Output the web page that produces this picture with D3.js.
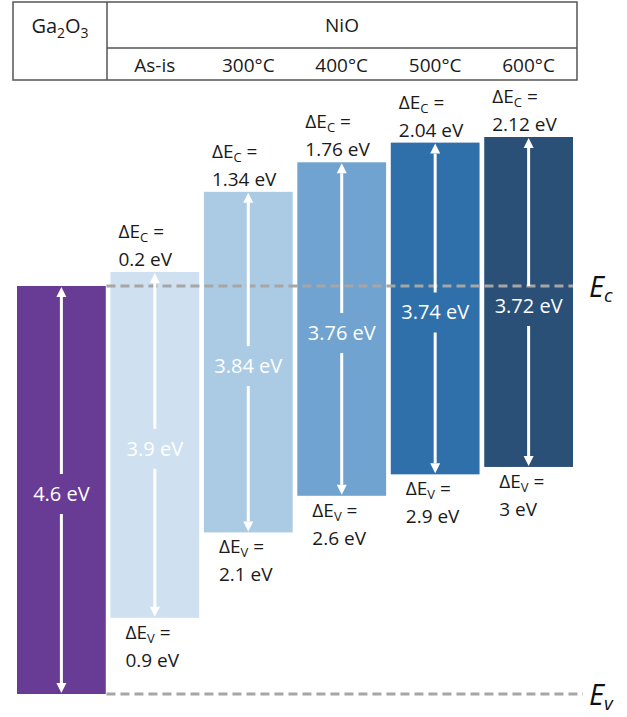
<!DOCTYPE html>
<html>
<head>
<meta charset="utf-8">
<script src="https://cdn.jsdelivr.net/npm/d3@7"></script>
<style>
  html, body { margin: 0; padding: 0; background: #fff; }
  svg { display: block; font-family: "Open Sans", "Noto Sans", sans-serif; }
</style>
</head>
<body>
<svg id="chart" width="627" height="717"></svg>
<script>
// Band alignment of NiO (as-deposited and annealed) against Ga2O3
const categories = ["Ga2O3", "As-is", "300°C", "400°C", "500°C", "600°C"];
const bandGaps   = [4.6, 3.9, 3.84, 3.76, 3.74, 3.72];     // eV
const deltaEc    = [0, 0.2, 1.34, 1.76, 2.04, 2.12];       // eV, NiO CB above Ga2O3 CB
const deltaEv    = [null, 0.9, 2.1, 2.6, 2.9, 3];          // eV, NiO VB above Ga2O3 VB
const barColors  = ["#683b95", "#cfe1f1", "#abcbe5", "#70a3d0", "#2f70aa", "#2a5078"];
const subHeaders = ["As-is", "300°C", "400°C", "500°C", "600°C"];

const svg = d3.select("#chart");
const ink = "#1a1a1a";
const fs = 19;

// Horizontal placement of the bars
const x = d3.scaleBand().domain(categories).range([17, 573]).paddingInner(0.05).paddingOuter(0);
const bw = x.bandwidth();

// Energy scale for the Ga2O3 reference (Ec = 0, Ev = -4.6) and for band-gap heights
const y = d3.scaleLinear().domain([-4.6, 0]).range([694, 286]);
const gapPx = e => y(0) - y(e);
// Schematic conduction-band offset scale (offsets drawn compressed above Ec)
const cb = d3.scaleLinear().domain([0, d3.max(deltaEc)]).range([y(0), 137]);

const bars = categories.map((c, i) => {
  const top = cb(deltaEc[i]);
  return { c, i, x0: x(c), cx: x(c) + bw / 2, top, bottom: top + gapPx(bandGaps[i]) };
});

// ---------- header table ----------
const tbl = svg.append("g").attr("stroke", "#555").attr("stroke-width", 1.5).attr("fill", "none");
const tL = 13, tR = 577, tT = 2, tB = 80, tDiv = 107, tMid = 48;
tbl.append("rect").attr("x", tL).attr("y", tT).attr("width", tR - tL).attr("height", tB - tT);
tbl.append("line").attr("x1", tDiv).attr("x2", tDiv).attr("y1", tT).attr("y2", tB);
tbl.append("line").attr("x1", tDiv).attr("x2", tR).attr("y1", tMid).attr("y2", tMid);

const ga = svg.append("text").attr("x", (tL + tDiv) / 2).attr("y", 33)
  .attr("text-anchor", "middle").attr("font-size", 20).attr("fill", ink);
ga.append("tspan").text("Ga");
ga.append("tspan").text("2").attr("font-size", 14).attr("dy", 5);
ga.append("tspan").text("O").attr("dy", -5);
ga.append("tspan").text("3").attr("font-size", 14).attr("dy", 5);

svg.append("text").attr("x", (tDiv + tR) / 2).attr("y", 32).attr("text-anchor", "middle")
  .attr("font-size", 19).attr("fill", ink).text("NiO");

svg.selectAll("text.sub").data(subHeaders).join("text").attr("class", "sub")
  .attr("x", d => x(d) + bw / 2).attr("y", 72).attr("text-anchor", "middle")
  .attr("font-size", 19).attr("fill", ink).text(d => d);

// ---------- bars ----------
svg.selectAll("rect.band").data(bars).join("rect").attr("class", "band")
  .attr("x", d => d.x0).attr("y", d => d.top)
  .attr("width", bw).attr("height", d => d.bottom - d.top)
  .attr("fill", d => barColors[d.i]);

// ---------- reference level lines ----------
const dash = { stroke: "#a6a6a6", "stroke-width": 3, "stroke-dasharray": "9,5" };
const ecLine = svg.append("line").attr("x1", x("As-is") - 4).attr("x2", 573).attr("y1", y(0)).attr("y2", y(0));
const evLine = svg.append("line").attr("x1", x("As-is") - 4).attr("x2", 583).attr("y1", y(-4.6)).attr("y2", y(-4.6));
[ecLine, evLine].forEach(l => Object.entries(dash).forEach(([k, v]) => l.attr(k, v)));

const levelLabel = (sub, yy) => {
  const t = svg.append("text").attr("x", 589).attr("y", yy).attr("font-size", 29)
    .attr("font-style", "italic").attr("fill", "#111");
  t.append("tspan").text("E");
  t.append("tspan").text(sub).attr("font-size", 19).attr("dy", 5);
};
levelLabel("c", y(0) + 11);
levelLabel("v", y(-4.6) + 11);

// ---------- band-gap arrows with value labels ----------
const head = 10, hw = 5, gap = 20;
bars.forEach(d => {
  const g = svg.append("g");
  const mid = (d.top + d.bottom) / 2 + 4;
  const t = d.top + 1, b = d.bottom - 1;
  g.append("line").attr("x1", d.cx).attr("x2", d.cx).attr("y1", t + head).attr("y2", mid - gap)
    .attr("stroke", "#fff").attr("stroke-width", 3);
  g.append("line").attr("x1", d.cx).attr("x2", d.cx).attr("y1", mid + gap).attr("y2", b - head)
    .attr("stroke", "#fff").attr("stroke-width", 3);
  g.append("path").attr("d", `M${d.cx},${t} L${d.cx - hw},${t + head} L${d.cx + hw},${t + head} Z`).attr("fill", "#fff");
  g.append("path").attr("d", `M${d.cx},${b} L${d.cx - hw},${b - head} L${d.cx + hw},${b - head} Z`).attr("fill", "#fff");
  g.append("text").attr("x", d.cx).attr("y", mid).attr("dy", "0.35em").attr("text-anchor", "middle")
    .attr("font-size", 20).attr("fill", "#fff").text(`${bandGaps[d.i]} eV`);
});

// ---------- offset labels ----------
const offsetLabel = (xx, y1, sub, val) => {
  const t1 = svg.append("text").attr("x", xx).attr("y", y1).attr("font-size", fs).attr("fill", ink);
  t1.append("tspan").text("ΔE");
  t1.append("tspan").text(sub).attr("font-size", 13).attr("dy", 4);
  t1.append("tspan").text(" =").attr("dy", -4);
  svg.append("text").attr("x", xx).attr("y", y1 + 28).attr("font-size", fs).attr("fill", ink).text(`${val} eV`);
};
bars.slice(1).forEach(d => {
  offsetLabel(d.x0 + 8, d.top - 34, "C", deltaEc[d.i]);
  offsetLabel(d.x0 + 15, d.bottom + 21, "V", deltaEv[d.i]);
});
</script>
</body>
</html>
